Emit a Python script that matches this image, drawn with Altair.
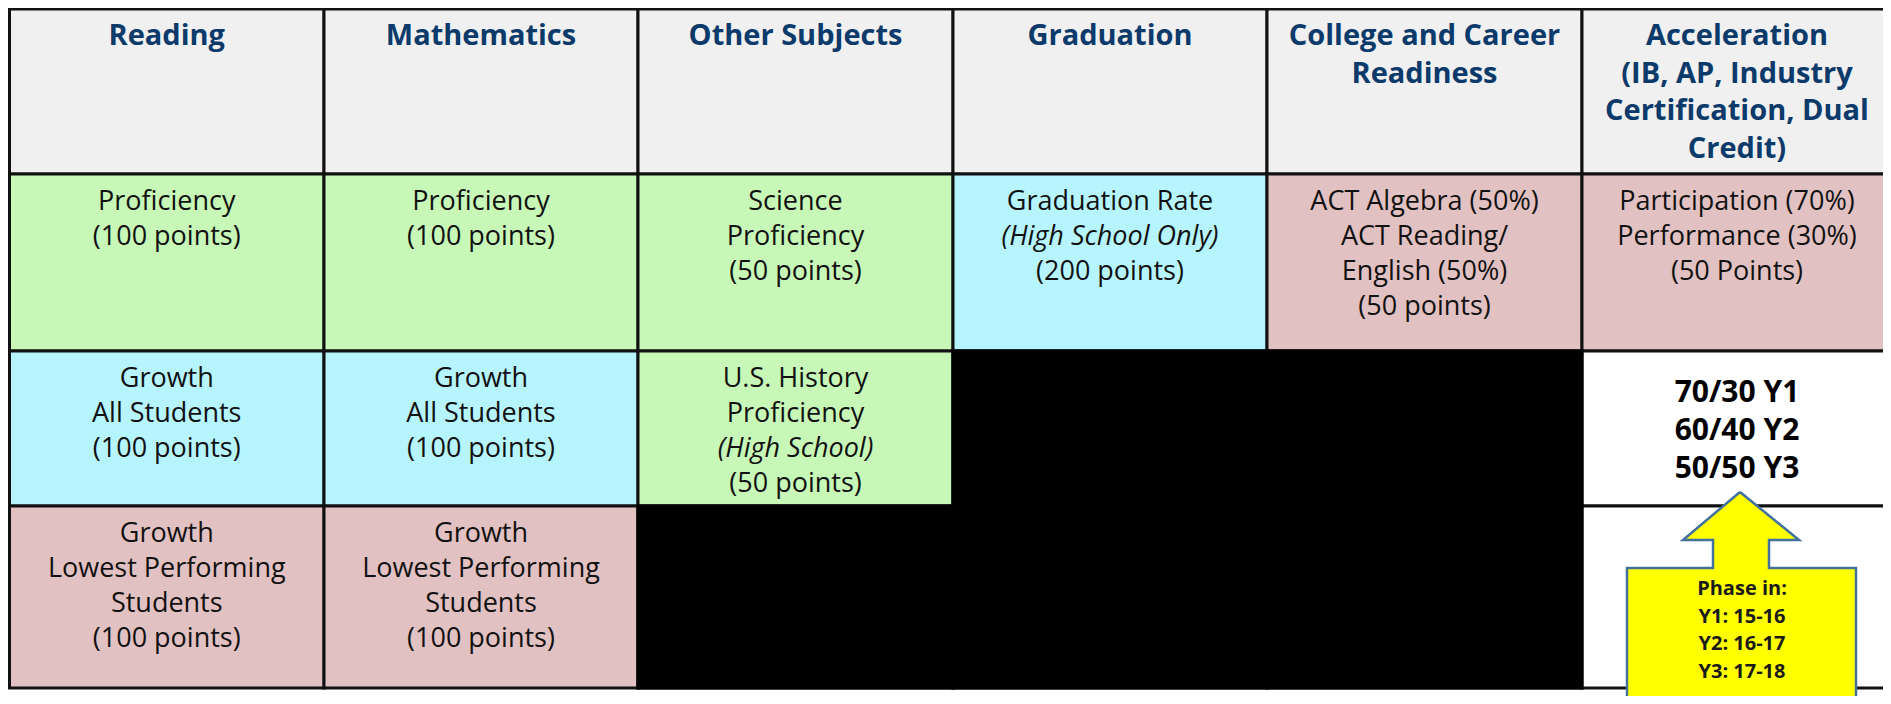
import altair as alt
import pandas as pd

# ---------------- content ----------------
headers = [
    "Reading",
    "Mathematics",
    "Other Subjects",
    "Graduation",
    "College and Career|Readiness",
    "Acceleration|(IB, AP, Industry|Certification, Dual|Credit)",
]

row1_text = [
    "Proficiency|(100 points)",
    "Proficiency|(100 points)",
    "Science|Proficiency|(50 points)",
    "Graduation Rate|_(High School Only)|(200 points)",
    "ACT Algebra (50%)|ACT Reading/|English (50%)|(50 points)",
    "Participation (70%)|Performance (30%)|(50 Points)",
]
row1_kind = ["green", "green", "green", "cyan", "pink", "pink"]

row2_text = [
    "Growth|All Students|(100 points)",
    "Growth|All Students|(100 points)",
    "U.S. History|Proficiency|_(High School)|(50 points)",
    "",
    "",
    "70/30 Y1|60/40 Y2|50/50 Y3",
]
row2_kind = ["cyan", "cyan", "green", "black", "black", "white"]

row3_text = [
    "Growth|Lowest Performing|Students|(100 points)",
    "Growth|Lowest Performing|Students|(100 points)",
    "",
    "",
    "",
    "",
]
row3_kind = ["pink", "pink", "black", "black", "black", "white"]

callout_lines = ["Phase in:", "Y1: 15-16", "Y2: 16-17", "Y3: 17-18"]

kind_names = ["header", "green", "cyan", "pink", "white", "black"]
kind_colors = ["#F0F0F0", "#C7F8B7", "#B7F5FE", "#E2C1C2", "#FFFFFF", "#000000"]

# ---------------- layout (table grid in picture pixels) ----------------
col_edges = [9.5, 324, 638, 953, 1267, 1582, 1900]
row_edges = [9, 174, 351, 506, 688]
col_centers = [(col_edges[i] + col_edges[i + 1]) / 2 for i in range(5)] + [1737]

# cells
cells = []
all_rows = [(["header"] * 6, headers), (row1_kind, row1_text), (row2_kind, row2_text), (row3_kind, row3_text)]
for r, (kinds, texts) in enumerate(all_rows):
    for c in range(6):
        cells.append(dict(x0=col_edges[c], x1=col_edges[c + 1],
                          y0=row_edges[r], y1=row_edges[r + 1], kind=kinds[c]))
cells_df = pd.DataFrame(cells)
black_df = cells_df[cells_df["kind"] == "black"].copy()
# widen black cells slightly so neighbouring black cells merge without seams
black_df["x0"] = black_df["x0"] - 1.5
black_df["x1"] = black_df["x1"] + 1.5
black_df["y0"] = black_df["y0"] - 1.5
black_df["y1"] = black_df["y1"] + 1.5

# text lines
lines = []
for r, (kinds, texts) in enumerate(all_rows):
    for c in range(6):
        t = texts[c]
        if not t:
            continue
        parts = t.split("|")
        for i, p in enumerate(parts):
            if r == 0:
                style = "header"
                y = 45 + i * 37.7
            elif r == 2 and c == 5:
                style = "bigbold"
                y = 402 + i * 38
            else:
                style = "italic" if p.startswith("_") else "normal"
                y = row_edges[r] + 36 + i * 35
            lines.append(dict(x=col_centers[c], y=y, text=p.lstrip("_"), style=style))
for i, p in enumerate(callout_lines):
    lines.append(dict(x=1742, y=595 + i * 27.5, text=p, style="callout"))
lines_df = pd.DataFrame(lines)

# arrow callout
box_df = pd.DataFrame([
    dict(x0=1627, x1=1856, y0=568, y1=710),
    dict(x0=1713, x1=1769, y0=538, y1=570),
])
head_df = pd.DataFrame(dict(x=[1683, 1740, 1799], y=[540.5, 492, 540.5], y2=[540.5, 540.5, 540.5]))
outline_x = [1740, 1799, 1769, 1769, 1856, 1856, 1627, 1627, 1713, 1713, 1683, 1740]
outline_y = [492, 540, 540, 568, 568, 710, 710, 568, 568, 540, 540, 492]
outline_df = pd.DataFrame(dict(x=outline_x, y=outline_y, o=list(range(len(outline_x)))))

# ---------------- scales ----------------
xs = alt.Scale(domain=[8, 1883], nice=False, zero=False)
ys = alt.Scale(domain=[8, 696], nice=False, zero=False, reverse=True)

cell_layer = alt.Chart(cells_df).mark_rect(stroke="#111111", strokeWidth=3, clip=True).encode(
    x=alt.X("x0:Q", scale=xs, axis=None),
    x2="x1:Q",
    y=alt.Y("y0:Q", scale=ys, axis=None),
    y2="y1:Q",
    fill=alt.Fill("kind:N", scale=alt.Scale(domain=kind_names, range=kind_colors), legend=None),
)

black_layer = alt.Chart(black_df).mark_rect(fill="#000000", strokeWidth=0, clip=True).encode(
    x=alt.X("x0:Q", scale=xs, axis=None), x2="x1:Q",
    y=alt.Y("y0:Q", scale=ys, axis=None), y2="y1:Q",
)

box_layer = alt.Chart(box_df).mark_rect(fill="#FFFF00", strokeWidth=0, clip=True).encode(
    x=alt.X("x0:Q", scale=xs, axis=None), x2="x1:Q",
    y=alt.Y("y0:Q", scale=ys, axis=None), y2="y1:Q",
)
head_layer = alt.Chart(head_df).mark_area(fill="#FFFF00", clip=True).encode(
    x=alt.X("x:Q", scale=xs, axis=None),
    y=alt.Y("y:Q", scale=ys, axis=None), y2="y2:Q",
)
outline_layer = alt.Chart(outline_df).mark_line(stroke="#41719C", strokeWidth=2.5,
                                                 strokeJoin="miter", clip=True).encode(
    x=alt.X("x:Q", scale=xs, axis=None),
    y=alt.Y("y:Q", scale=ys, axis=None),
    order="o:Q",
)


def text_layer(style, **kw):
    return alt.Chart(lines_df).transform_filter(alt.datum.style == style).mark_text(
        align="center", baseline="alphabetic", font="Open Sans", **kw
    ).encode(
        x=alt.X("x:Q", scale=xs, axis=None),
        y=alt.Y("y:Q", scale=ys, axis=None),
        text="text:N",
    )


t_header = text_layer("header", fontSize=29, fontWeight="bold", color="#0B3A6B")
t_normal = text_layer("normal", fontSize=27, color="#111111")
t_italic = text_layer("italic", fontSize=27, fontStyle="italic", color="#111111")
t_big = text_layer("bigbold", fontSize=30, fontWeight="bold", color="#000000")
t_call = text_layer("callout", fontSize=20, fontWeight="bold", color="#1A1A1A")

chart = alt.layer(
    cell_layer, black_layer, box_layer, head_layer, outline_layer,
    t_header, t_normal, t_italic, t_big, t_call,
).properties(
    width=1875, height=688, padding=0,
    autosize=alt.AutoSizeParams(type="fit", contains="padding"),
).configure_view(stroke=None)

chart.save("out.html", embed_options={"renderer": "svg", "actions": False})
